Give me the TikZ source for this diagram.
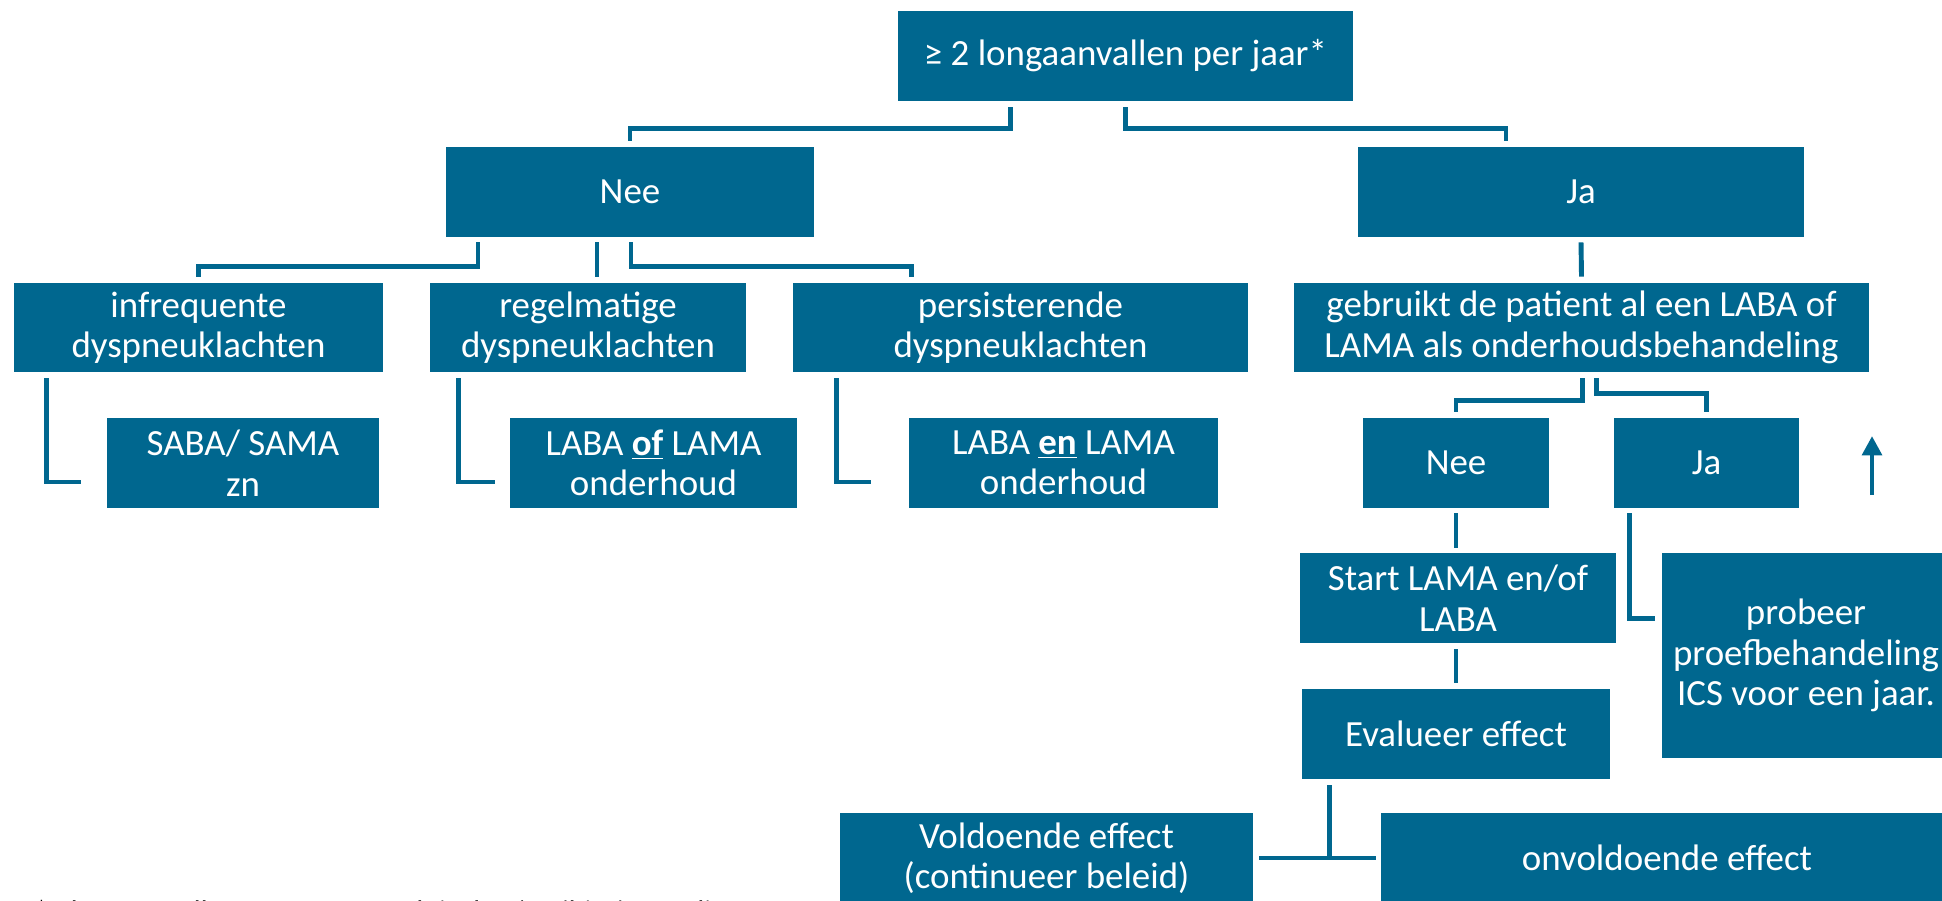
\documentclass[tikz,border=0pt]{standalone}
\usepackage{fontspec}
\setmainfont{Carlito}
\usetikzlibrary{calc}
\usetikzlibrary{arrows.meta}
\pgfdeclarelayer{edgelayer}
\pgfdeclarelayer{nodelayer}
\pgfsetlayers{edgelayer,nodelayer,main}
\definecolor{copdblue}{RGB}{0,103,143}
\tikzstyle{block}=[rectangle,fill=copdblue,text=white,inner sep=0pt,align=center,minimum height=1.8cm,font=\fontsize{21}{23}\selectfont]
\tikzstyle{branch}=[draw=copdblue,line width=2.8pt]

\begin{document}
\begin{tikzpicture}[x=0.02cm,y=-0.02cm]
	\useasboundingbox (0,0) rectangle (1942,900);
	\begin{pgfonlayer}{nodelayer}
		\node [style=block, minimum width=9.1cm] (0) at (1125.5, 56) {≥ 2 longaanvallen per jaar*};
		\node [style=block, minimum width=7.36cm] (1) at (630, 192) {Nee};
		\node [style=block, minimum width=8.92cm] (2) at (1581, 192) {Ja};
		\node [style=block, minimum width=7.38cm, minimum height=1.78cm] (3) at (198.5, 327.5) {infrequente\\dyspneuklachten};
		\node [style=block, minimum width=6.32cm, minimum height=1.78cm] (4) at (588, 327.5) {regelmatige\\dyspneuklachten};
		\node [style=block, minimum width=9.1cm, minimum height=1.78cm] (5) at (1020.5, 327.5) {persisterende\\dyspneuklachten};
		\node [style=block, minimum width=11.5cm, minimum height=1.78cm] (6) at (1581.5, 327.5) {gebruikt de patient al een LABA of\\LAMA als onderhoudsbehandeling};
		\node [style=block, minimum width=5.44cm] (7) at (243, 463) {SABA/ SAMA\\zn};
		\node [style=block, minimum width=5.74cm] (8) at (653.5, 463) {LABA \textbf{\underline{of}} LAMA\\onderhoud};
		\node [style=block, minimum width=6.18cm] (9) at (1063.5, 463) {LABA \textbf{\underline{en}} LAMA\\onderhoud};
		\node [style=block, minimum width=3.72cm] (10) at (1456, 463) {Nee};
		\node [style=block, minimum width=3.7cm] (11) at (1706.5, 463) {Ja};
		\node [style=block, minimum width=6.32cm] (12) at (1458, 598) {Start LAMA en/of\\LABA};
		\node [style=block, minimum width=6.16cm] (13) at (1456, 734) {Evalueer effect};
		\node [style=block, minimum width=5.76cm, minimum height=4.1cm] (14) at (1806, 655.5) {probeer\\proefbehandeling\\ICS voor een jaar.};
		\node [style=block, minimum width=8.26cm] (15) at (1046.5, 858) {Voldoende effect\\(continueer beleid)};
		\node [style=block, minimum width=11.44cm] (16) at (1667, 858) {onvoldoende effect};
		\node [anchor=base west, font=\fontsize{17}{20}\selectfont] (17) at (28, 921) {*2 longaanvallen waarvoor prednisolon/antibiotica nodig was};
		\coordinate (18) at (1872, 495);
		\coordinate (19) at (1872, 436);
	\end{pgfonlayer}
	\begin{pgfonlayer}{edgelayer}
		\draw [style=branch] ($(0.south)+(-115,6)$) -- ++(0,21) -| ($(1.north)+(0,-6)$);
		\draw [style=branch] ($(0.south)+(0,6)$) -- ++(0,21) -| ($(2.north)+(-75,-6)$);
		\draw [style=branch] ($(1.south)+(-152,5)$) -- ++(0,24) -| ($(3.north)+(0,-6)$);
		\draw [style=branch] ($(1.south)+(-33,5)$) -- ($(4.north)+(9,-6)$);
		\draw [style=branch] ($(1.south)+(1,5)$) -- ++(0,24) -| ($(5.north)+(-109,-6)$);
		\draw [style=branch] ($(2.south)+(0,5)$) -- ($(6.north)+(0,-6)$);
		\draw [style=branch] ($(3.south west)+(33,6)$) |- ($(7.west)+(-26,19)$);
		\draw [style=branch] ($(4.south west)+(29,6)$) |- ($(8.west)+(-15,19)$);
		\draw [style=branch] ($(5.south west)+(44,6)$) |- ($(9.west)+(-38,19)$);
		\draw [style=branch] ($(6.south)+(1,6)$) -- ++(0,22) -| ($(10.north)+(0,-6)$);
		\draw [style=branch] ($(6.south)+(15,6)$) -- ++(0,15) -| ($(11.north)+(0,-6)$);
		\draw [style=branch] ($(10.south)+(0,5)$) -- ($(12.north)+(-2,-5)$);
		\draw [style=branch] ($(12.south)+(-2,6)$) -- ($(13.north)+(0,-6)$);
		\draw [style=branch] ($(11.south west)+(16,5)$) |- ($(14.west)+(-7,-37)$);
		\draw [style=branch] ($(13.south west)+(28,6)$) |- ($(15.east)+(6,0)$);
		\draw [style=branch] ($(13.south west)+(28,6)$) |- ($(16.west)+(-5,0)$);
		\draw [style=branch, -{Triangle[length=11pt,width=11pt]}] (18) -- (19);
	\end{pgfonlayer}
\end{tikzpicture}
\end{document}
